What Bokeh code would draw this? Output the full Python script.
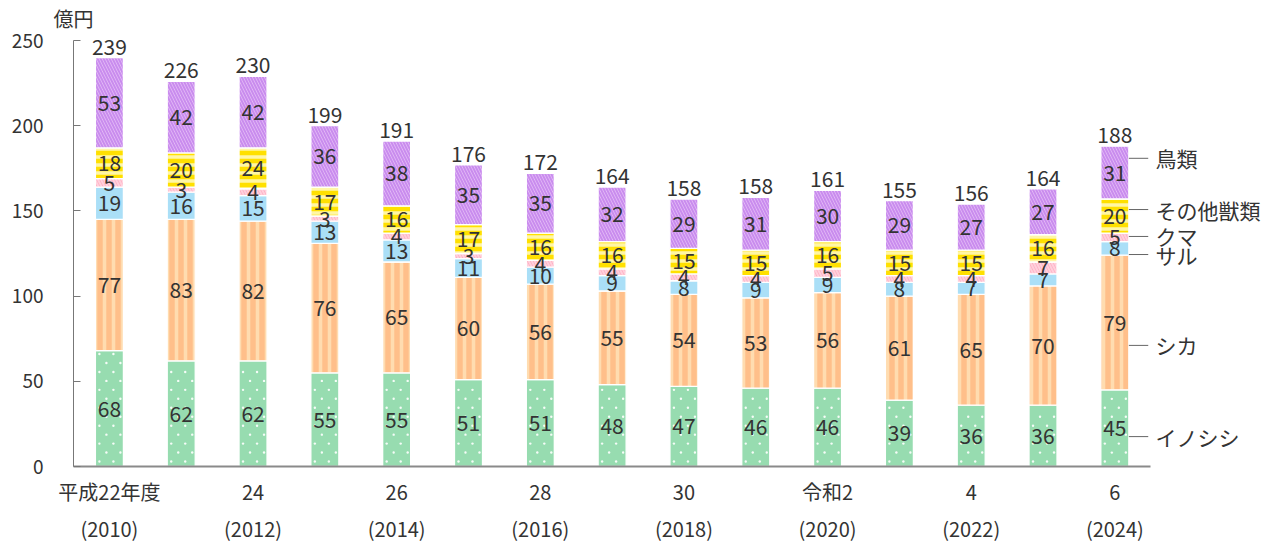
import numpy as np
from bokeh.plotting import figure
from bokeh.models import ColumnDataSource, FixedTicker, Range1d
from bokeh.core.properties import value
from bokeh.embed import file_html
from bokeh.resources import INLINE

# ---------------- data ----------------
years = list(range(2010, 2025))
x_top_labels = {0: "平成22年度", 2: "24", 4: "26", 6: "28", 8: "30", 10: "令和2", 12: "4", 14: "6"}
x_bottom_labels = {0: "(2010)", 2: "(2012)", 4: "(2014)", 6: "(2016)", 8: "(2018)",
                   10: "(2020)", 12: "(2022)", 14: "(2024)"}
y_ticks = [0, 50, 100, 150, 200, 250]

series_names = ["イノシシ", "シカ", "サル", "クマ", "その他獣類", "鳥類"]
inoshishi = [68, 62, 62, 55, 55, 51, 51, 48, 47, 46, 46, 39, 36, 36, 45]
shika     = [77, 83, 82, 76, 65, 60, 56, 55, 54, 53, 56, 61, 65, 70, 79]
saru      = [19, 16, 15, 13, 13, 11, 10, 9, 8, 9, 9, 8, 7, 7, 8]
kuma      = [5, 3, 4, 3, 4, 3, 4, 4, 4, 4, 5, 4, 4, 7, 5]
sonota    = [18, 20, 24, 17, 16, 17, 16, 16, 15, 15, 16, 15, 15, 16, 20]
chorui    = [53, 42, 42, 36, 38, 35, 35, 32, 29, 31, 30, 29, 27, 27, 31]
totals    = [239, 226, 230, 199, 191, 176, 172, 164, 158, 158, 161, 155, 156, 164, 188]

series = [inoshishi, shika, saru, kuma, sonota, chorui]

# ---------------- styles ----------------
FONT = "Noto Sans CJK JP"
TXT = "#333333"
styles = [
    dict(fill_color="#97dcb0"),
    dict(fill_color="#ffbf8a", hatch_pattern="vertical_line", hatch_color="#ffdcb0", hatch_scale=9, hatch_weight=3.5),
    dict(fill_color="#aadff7"),
    dict(fill_color="#ffacc0", hatch_pattern="left_diagonal_line", hatch_color="#ffd0dc", hatch_scale=6, hatch_weight=2),
    dict(fill_color="#ffe000", hatch_pattern="horizontal_line", hatch_color="#fff6a6", hatch_scale=8, hatch_weight=3.5),
    dict(fill_color="#e6c0f6", hatch_pattern="left_diagonal_line", hatch_color="#c98cee", hatch_scale=6, hatch_weight=2),
]
callout_frac = [0.39, 0.33, 0.05, 0.6, 0.69, 0.77]  # where each callout line meets last bar

BAR_W = 0.39
n = len(years)
xs = np.arange(n)

p = figure(width=1263, height=546, output_backend="svg", toolbar_location=None,
           x_range=Range1d(-0.5, 16.07), y_range=Range1d(0, 254.7),
           min_border_left=73, min_border_right=0, min_border_top=32, min_border_bottom=0)
p.outline_line_color = None
p.xgrid.grid_line_color = None
p.ygrid.grid_line_color = None
p.background_fill_color = "white"
p.border_fill_color = "white"

p.title.text = "億円"
p.title.align = "left"
p.title.offset = -20
p.title.text_font = FONT
p.title.text_font_size = "20px"
p.title.text_font_style = "normal"
p.title.text_color = TXT
p.title.standoff = 0

# y axis
ya = p.yaxis[0]
ya.ticker = FixedTicker(ticks=y_ticks)
ya.bounds = (y_ticks[0], y_ticks[-1])
ya.major_tick_in = 7
ya.major_tick_out = 0
ya.minor_tick_line_color = None
ya.axis_line_color = "#777777"
ya.major_tick_line_color = "#777777"
ya.major_label_text_font = FONT
ya.major_label_text_font_size = "19px"
ya.major_label_text_color = TXT
ya.major_label_standoff = 30

# x axis (baseline + two-line category labels)
xa = p.xaxis[0]
tk = sorted(x_top_labels)
xa.ticker = FixedTicker(ticks=tk)
xa.bounds = (-0.5, n - 0.5)
xa.major_label_overrides = {k: x_top_labels[k] + "\n" + x_bottom_labels[k] for k in tk}
xa.axis_line_color = "#8a8a8a"
xa.axis_line_width = 2
xa.major_tick_line_color = None
xa.minor_tick_line_color = None
xa.major_tick_in = 0
xa.major_tick_out = 0
xa.axis_label_standoff = 0
xa.major_label_text_font = FONT
xa.major_label_text_font_size = "20px"
xa.major_label_text_color = TXT
xa.major_label_text_line_height = 1.3
xa.major_label_standoff = 10

# stacked bars
bottom = np.zeros(n)
label_x, label_y, label_t = [], [], []
callout_y = []
for vals, st, frac in zip(series, styles, callout_frac):
    v = np.array(vals, dtype=float)
    src = ColumnDataSource(dict(x=xs, bottom=bottom.copy(), top=bottom + v))
    p.vbar(x="x", bottom="bottom", top="top", width=BAR_W, source=src,
           line_color="white", line_width=1.3, **st)
    label_x += list(xs)
    label_y += list(bottom + v / 2)
    label_t += [str(int(a)) for a in vals]
    callout_y.append(bottom[-1] + frac * v[-1])
    bottom = bottom + v

# white dot texture on the イノシシ segments (staggered grid, pixel spacing)
PX_X = (16.07 + 0.5) / 1190.0
PX_Y = 254.7 / 436.0
dot_x, dot_y = [], []
for i, v in enumerate(inoshishi):
    yy, r = 5 * PX_Y, 0
    while yy < v - 3 * PX_Y:
        offs = (-10.0, 4.0) if r % 2 == 0 else (-3.0, 11.0)
        for o in offs:
            dot_x.append(i + o * PX_X)
            dot_y.append(yy)
        yy += 9 * PX_Y
        r += 1
p.scatter(x=dot_x, y=dot_y, marker="circle", size=2.4, fill_color="white",
          fill_alpha=0.9, line_color=None)

# segment labels
p.text(x=label_x, y=label_y, text=label_t, text_font=value(FONT), text_font_size="21px",
       text_color=TXT, text_align="center", text_baseline="middle")

# totals
p.text(x=list(xs), y=list(bottom), text=[str(t) for t in totals], text_font=value(FONT),
       text_font_size="21px", text_color=TXT, text_align="center", text_baseline="bottom",
       y_offset=-3)

# callouts
x0 = (n - 1) + BAR_W / 2
p.segment(x0=[x0] * len(series), y0=callout_y, x1=[x0 + 0.27] * len(series), y1=callout_y,
          line_color="#666666", line_width=1)
p.text(x=[x0 + 0.37] * len(series), y=callout_y, text=series_names, text_font=value(FONT),
       text_font_size="21px", text_color=TXT, text_align="left", text_baseline="middle")

open("out.html", "w").write(file_html(p, INLINE))
